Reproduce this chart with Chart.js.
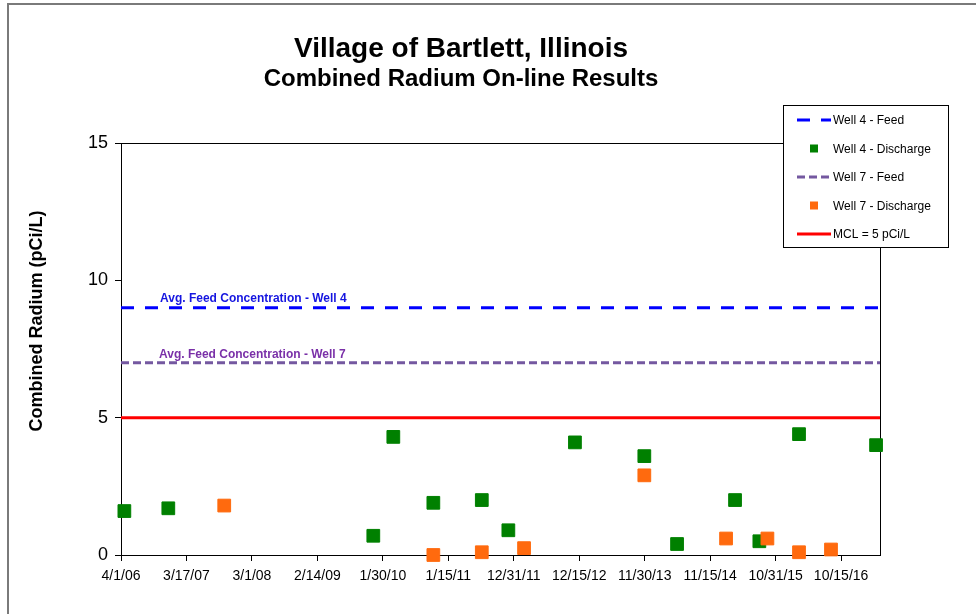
<!DOCTYPE html>
<html>
<head>
<meta charset="utf-8">
<script src="https://cdn.jsdelivr.net/npm/chart.js@4/dist/chart.umd.min.js"></script>
<style>
  html, body { margin: 0; padding: 0; background: #fff; }
  #wrap { width: 976px; height: 614px; position: relative; }
</style>
</head>
<body>
<div id="wrap"><canvas id="c" width="976" height="614"></canvas></div>
<script>
// ---------------- data ----------------
const titleLine1 = 'Village of Bartlett, Illinois';
const titleLine2 = 'Combined Radium On-line Results';
const yAxisTitle = 'Combined Radium (pCi/L)';

const tickLabels = ['4/1/06','3/17/07','3/1/08','2/14/09','1/30/10','1/15/11','12/31/11','12/15/12','11/30/13','11/15/14','10/31/15','10/15/16'];
const axisStart = '4/1/06';
const axisEnd = '5/11/17';
const yTicks = [0, 5, 10, 15];

const well4Dates = ['4/19/06','12/10/06','12/10/09','3/27/10','10/27/10','7/13/11','12/2/11','11/22/12','11/28/13','5/22/14','3/28/15','8/5/15','3/4/16','4/20/17'];
const well4Discharge = [1.6, 1.7, 0.7, 4.3, 1.9, 2.0, 0.9, 4.1, 3.6, 0.4, 2.0, 0.5, 4.4, 4.0];

const well7Dates = ['10/5/07','10/27/10','7/13/11','2/24/12','11/28/13','2/8/15','9/17/15','3/4/16','8/22/16'];
const well7Discharge = [1.8, 0.0, 0.1, 0.25, 2.9, 0.6, 0.6, 0.1, 0.2];

const well4Feed = 9;
const well7Feed = 7;
const mcl = 5;

const seriesNames = ['Well 4 - Feed', 'Well 4 - Discharge', 'Well 7 - Feed', 'Well 7 - Discharge', 'MCL = 5 pCi/L'];
const feedNotes = ['Avg. Feed Concentration - Well 4', 'Avg. Feed Concentration - Well 7'];

// ---------------- helpers ----------------
function toDays(s) {
  const [m, d, y] = s.split('/').map(Number);
  const t = Date.UTC(2000 + y, m - 1, d);
  const [m0, d0, y0] = axisStart.split('/').map(Number);
  const t0 = Date.UTC(2000 + y0, m0 - 1, d0);
  return Math.round((t - t0) / 86400000);
}
const xMin = toDays(axisStart);
const xMax = toDays(axisEnd);
const tickDays = tickLabels.map(toDays);
const pts = (dates, vals) => dates.map((d, i) => ({ x: toDays(d), y: vals[i] }));
const hline = v => [{ x: xMin, y: v }, { x: xMax, y: v }];

const BLUE = '#0000FF', PURPLE = '#7458A0', RED = '#FF0000', GREEN = '#008000', ORANGE = '#FF6A0E';
const FONT = '"Liberation Sans", Arial, sans-serif';

// ---------------- plugins ----------------
const decor = {
  id: 'decor',
  beforeDraw(chart) {
    const ctx = chart.ctx;
    ctx.save();
    ctx.fillStyle = '#fff';
    ctx.fillRect(0, 0, chart.width, chart.height);
    // outer frame
    ctx.strokeStyle = '#7a7a7a';
    ctx.lineWidth = 2;
    ctx.beginPath();
    ctx.moveTo(8, chart.height);
    ctx.lineTo(8, 4);
    ctx.lineTo(chart.width, 4);
    ctx.stroke();
    ctx.restore();
  },
  beforeDatasetsDraw(chart) {
    const ctx = chart.ctx;
    const a = chart.chartArea;
    ctx.save();
    ctx.strokeStyle = '#000';
    ctx.lineWidth = 1;
    ctx.strokeRect(Math.round(a.left) + 0.5, Math.round(a.top) + 0.5, Math.round(a.right - a.left), Math.round(a.bottom - a.top));
    ctx.restore();
  },
  afterDatasetsDraw(chart) {
    const ctx = chart.ctx;
    const a = chart.chartArea;
    const ys = chart.scales.y;
    ctx.save();
    // feed notes
    ctx.font = 'bold 12px ' + FONT;
    ctx.textBaseline = 'alphabetic';
    ctx.textAlign = 'left';
    ctx.fillStyle = '#1515E0';
    ctx.fillText(feedNotes[0], a.left + 39, ys.getPixelForValue(well4Feed) - 6);
    ctx.fillStyle = '#7A30A8';
    ctx.fillText(feedNotes[1], a.left + 38, ys.getPixelForValue(well7Feed) - 5);
    // titles
    ctx.fillStyle = '#000';
    ctx.textAlign = 'center';
    ctx.font = 'bold 28px ' + FONT;
    ctx.fillText(titleLine1, 461, 57);
    ctx.font = 'bold 24px ' + FONT;
    ctx.fillText(titleLine2, 461, 86);
    // y axis title
    ctx.save();
    ctx.translate(37, 321);
    ctx.rotate(-Math.PI / 2);
    ctx.font = 'bold 18px ' + FONT;
    ctx.textBaseline = 'middle';
    ctx.fillText(yAxisTitle, 0, 0);
    ctx.restore();
    // legend box
    const lx = 783, ly = 105, lw = 165, lh = 142;
    ctx.fillStyle = '#fff';
    ctx.fillRect(lx, ly, lw, lh);
    ctx.strokeStyle = '#000';
    ctx.lineWidth = 1;
    ctx.strokeRect(lx + 0.5, ly + 0.5, lw, lh);
    const order = [0, 1, 2, 3, 4];
    order.forEach((di, i) => {
      const ds = chart.data.datasets[di];
      const cy = 120 + i * 28.5;
      if (ds.showLine) {
        ctx.save();
        ctx.strokeStyle = ds.borderColor;
        ctx.lineWidth = ds.borderWidth;
        ctx.setLineDash(ds.borderDash || []);
        ctx.beginPath();
        ctx.moveTo(797, cy);
        ctx.lineTo(831, cy);
        ctx.stroke();
        ctx.restore();
      } else {
        ctx.fillStyle = ds.backgroundColor;
        ctx.fillRect(810, cy - 4, 8, 8);
      }
      ctx.fillStyle = '#000';
      ctx.font = '12px ' + FONT;
      ctx.textAlign = 'left';
      ctx.textBaseline = 'middle';
      ctx.fillText(ds.label, 833, cy + 1);
    });
    ctx.restore();
  }
};

// ---------------- chart ----------------
const lineDs = (label, v, color, dash, order) => ({
  label, data: hline(v), showLine: true, borderColor: color, backgroundColor: color,
  borderWidth: 3, borderDash: dash, pointRadius: 0, pointHoverRadius: 0, order, fill: false, clip: 4
});
const dotDs = (label, data, color, order) => ({
  label, data, showLine: false, backgroundColor: color, borderColor: color, borderWidth: 1,
  pointStyle: 'rect', pointRadius: 9, pointHoverRadius: 9, order, clip: false
});

new Chart(document.getElementById('c'), {
  type: 'scatter',
  data: {
    datasets: [
      lineDs(seriesNames[0], well4Feed, BLUE, [13, 11], 3),
      dotDs(seriesNames[1], pts(well4Dates, well4Discharge), GREEN, 1),
      lineDs(seriesNames[2], well7Feed, PURPLE, [8, 4], 4),
      dotDs(seriesNames[3], pts(well7Dates, well7Discharge), ORANGE, 0),
      lineDs(seriesNames[4], mcl, RED, [], 2)
    ]
  },
  options: {
    responsive: false,
    animation: false,
    layout: { padding: { left: 0, top: 143, right: 96, bottom: 0 } },
    plugins: { legend: { display: false }, title: { display: false }, tooltip: { enabled: false } },
    scales: {
      x: {
        type: 'linear', min: xMin, max: xMax,
        afterBuildTicks: s => { s.ticks = tickDays.map(v => ({ value: v })); },
        afterFit: s => { s.height = 59; },
        grid: { drawOnChartArea: false, drawTicks: true, tickLength: 6, color: '#000' },
        border: { display: true, color: '#000', width: 1 },
        ticks: {
          autoSkip: false, maxRotation: 0, minRotation: 0, color: '#000', padding: 7,
          font: { family: FONT, size: 14 },
          callback: (v) => { const i = tickDays.indexOf(v); return i >= 0 ? tickLabels[i] : ''; }
        }
      },
      y: {
        min: 0, max: 15,
        afterBuildTicks: s => { s.ticks = yTicks.map(v => ({ value: v })); },
        afterFit: s => { s.width = 121; },
        grid: { drawOnChartArea: false, drawTicks: true, tickLength: 6, color: '#000' },
        border: { display: true, color: '#000', width: 1 },
        ticks: { color: '#000', padding: 7, font: { family: FONT, size: 18 } }
      }
    }
  },
  plugins: [decor]
});
</script>
</body>
</html>
